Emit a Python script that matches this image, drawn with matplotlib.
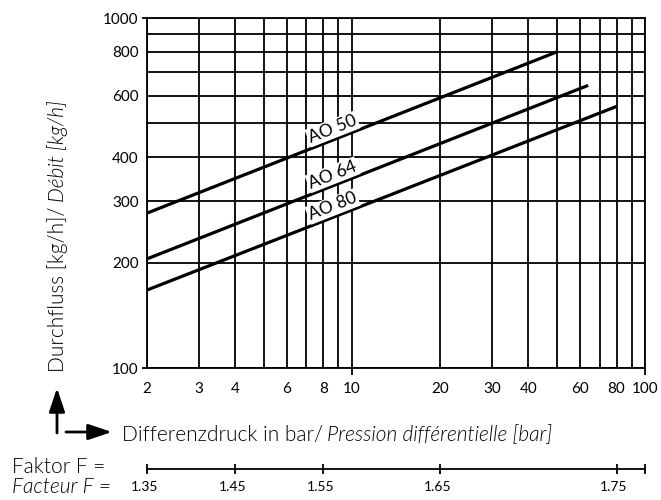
import numpy as np
import matplotlib.pyplot as plt

plt.rcParams['font.family'] = ['Lato', 'DejaVu Sans']

# curves are straight lines on log-log paper, read at both ends
series = ['AO 50', 'AO 64', 'AO 80']
dp_start = [2, 2, 2]
dp_end = [50, 64, 80]
flow_start = [277, 205, 167]
flow_end = [800, 642, 559]
label_dp = 8.6  # where the curve names sit

x_major = [10, 100]
x_major_labels = ['10', '100']
x_minor = [2, 3, 4, 5, 6, 7, 8, 9, 20, 30, 40, 50, 60, 70, 80, 90]
x_minor_labels = ['2', '3', '4', '', '6', '', '8', '', '20', '30', '40', '', '60', '', '80', '']
y_major = [100, 1000]
y_major_labels = ['100', '1000']
y_minor = [200, 300, 400, 500, 600, 700, 800, 900]
y_minor_labels = ['200', '300', '400', '', '600', '', '800', '']

# factor scale below the chart, placed on the pressure axis
factor_dp = [2, 4, 8, 20, 80, 100]
factor_labels = ['1.35', '1.45', '1.55', '1.65', '1.75', '']

W, H = 661, 500
fig = plt.figure(figsize=(W / 100, H / 100), dpi=100)
ax = fig.add_axes([147 / W, 1 - 368 / H, 498 / W, 350 / H])
ax.set_xscale('log')
ax.set_yscale('log')
ax.set_xlim(2, 100)
ax.set_ylim(100, 1000)

ax.set_xticks(x_major)
ax.set_xticklabels(x_major_labels)
ax.set_xticks(x_minor, minor=True)
ax.set_xticklabels(x_minor_labels, minor=True)
ax.set_yticks(y_major)
ax.set_yticklabels(y_major_labels)
ax.set_yticks(y_minor, minor=True)
ax.set_yticklabels(y_minor_labels, minor=True)

lw = 1.3
ax.grid(True, which='both', color='black', lw=lw)
ax.set_axisbelow(True)
for s in ax.spines.values():
    s.set_linewidth(lw)
ax.tick_params(axis='x', which='both', labelsize=11, width=lw, length=5, pad=5)
ax.tick_params(axis='y', which='both', labelsize=11, width=lw, length=3.6, pad=2.5)
ax.tick_params(which='minor', width=0)

thin = 300

for name, x0, x1, y0, y1 in zip(series, dp_start, dp_end, flow_start, flow_end):
    ax.plot([x0, x1], [y0, y1], color='black', lw=2.3, solid_capstyle='butt', zorder=3)
    slope = np.log(y1 / y0) / np.log(x1 / x0)
    yl = y0 * (label_dp / x0) ** slope
    p0 = ax.transData.transform((x0, y0))
    p1 = ax.transData.transform((x1, y1))
    ang = np.degrees(np.arctan2(p1[1] - p0[1], p1[0] - p0[0]))
    ax.annotate(name, (label_dp, yl), xytext=(0, 8), textcoords='offset points',
                rotation=ang, rotation_mode='anchor', ha='center', va='center',
                fontsize=12.5, fontweight='normal', zorder=4,
                bbox=dict(fc='white', ec='none', pad=1.0))

# factor scale
fx = fig.add_axes([147 / W, 1 - 479.3 / H, 498 / W, 20 / H])
fx.set_xscale('log')
fx.set_xlim(2, 100)
fx.set_ylim(0, 1)
fx.axis('off')
fx.plot([factor_dp[0], factor_dp[-1]], [0.5, 0.5], color='black', lw=lw, clip_on=False)
fx.plot(factor_dp, [0.5] * len(factor_dp), ls='none', marker='|', ms=7, mew=lw,
        color='black', clip_on=False)
for d, t in zip(factor_dp, factor_labels):
    fx.annotate(t, (d, 0.5), xytext=(-2, -12.5), textcoords='offset points',
                ha='center', va='center', fontsize=10)

big = 15
fig.text(12 / W, 1 - 473 / H, 'Faktor F =', fontsize=big, va='baseline', fontweight=thin)
fig.text(12 / W, 1 - 493 / H, 'Facteur F =', fontsize=big, va='baseline', style='italic',
         fontweight=thin)

# axis titles, upright + italic parts
fig.canvas.draw()
r = fig.canvas.get_renderer()
t1 = fig.text(122 / W, 1 - 441 / H, 'Differenzdruck in bar/', fontsize=big, va='baseline',
              fontweight=thin)
bb = t1.get_window_extent(r)
fig.text((bb.x1 + 4) / W, 1 - 441 / H, 'Pression différentielle [bar]', fontsize=big,
         va='baseline', style='italic', fontweight=thin)

t2 = fig.text(58 / W, 1 - 372 / H, 'Durchfluss [kg/h]/', fontsize=big, rotation=90,
              ha='center', va='bottom', fontweight=thin)
bb = t2.get_window_extent(r)
fig.text(58 / W, (bb.y1 + 4) / H, 'Débit [kg/h]', fontsize=big, rotation=90,
         ha='center', va='bottom', style='italic', fontweight=thin)

# arrows
ap = dict(arrowstyle='-|>,head_length=0.9,head_width=0.3', lw=2, color='black',
          mutation_scale=16, shrinkA=0, shrinkB=0)
fig.add_artist(plt.Annotation('', xy=(57 / W, 1 - 388 / H), xytext=(57 / W, 1 - 433 / H),
                              xycoords='figure fraction', arrowprops=ap))
fig.add_artist(plt.Annotation('', xy=(112 / W, 1 - 432 / H), xytext=(66 / W, 1 - 432 / H),
                              xycoords='figure fraction', arrowprops=ap))

fig.savefig('out.png', dpi=100)
